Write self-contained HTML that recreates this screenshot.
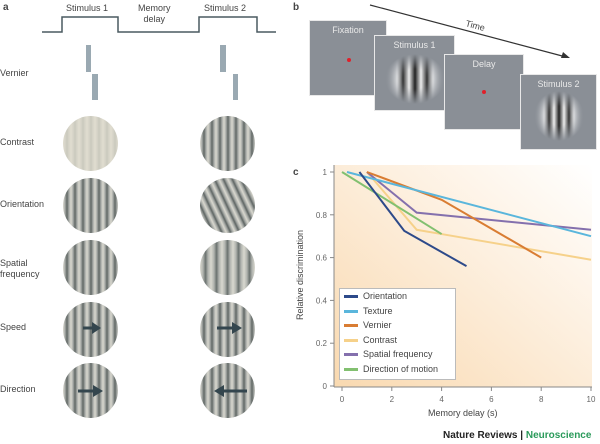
<!DOCTYPE html>
<html><head><meta charset="utf-8">
<style>
body{margin:0;width:600px;height:444px;background:#fff;position:relative;overflow:hidden;font-family:"Liberation Sans",sans-serif;color:#333}
.t{position:absolute;font-size:9px;color:#444;white-space:nowrap}
.c{position:absolute;width:55px;height:55px;border-radius:50%}
.g{background:repeating-linear-gradient(90deg,#d9d8cf 0px,#a9aca8 2px,#5f6664 4px,#a9aca8 6px,#d9d8cf 8px)}
.lc{background:repeating-linear-gradient(90deg,#e0ddd0 0px,#d2d0c4 3px,#c8c8bd 4px,#d2d0c4 5px,#e0ddd0 8px)}
.gd{background:repeating-linear-gradient(65deg,#d9d8cf 0px,#a9aca8 2px,#5f6664 4px,#a9aca8 6px,#d9d8cf 8px)}
.lo{background:repeating-linear-gradient(90deg,#d9d8cf 0px,#b0b3ae 3px,#6a716f 5.5px,#b0b3ae 8px,#d9d8cf 11px)}
.box{position:absolute;width:78px;height:76px;background:#8a8f96;border:1px solid #e8e8e8;color:#e8e8e8;font-size:9px;text-align:center;box-sizing:border-box;padding-top:4px}
</style></head><body>
<svg width="600" height="444" style="position:absolute;left:0;top:0">
<defs>
<linearGradient id="bg" x1="0" y1="1" x2="1" y2="0">
<stop offset="0" stop-color="#f9d9b0"/><stop offset="0.6" stop-color="#fdf0e0"/><stop offset="1" stop-color="#ffffff"/></linearGradient>
<linearGradient id="gab" x1="0" x2="1"><stop offset="0" stop-color="#8a8f96"/><stop offset="0.2" stop-color="#fff"/><stop offset="0.3" stop-color="#333"/><stop offset="0.4" stop-color="#eee"/><stop offset="0.5" stop-color="#222"/><stop offset="0.6" stop-color="#eee"/><stop offset="0.7" stop-color="#333"/><stop offset="0.8" stop-color="#fff"/><stop offset="1" stop-color="#8a8f96"/></linearGradient>
<radialGradient id="fade"><stop offset="0.4" stop-color="#8a8f96" stop-opacity="0"/><stop offset="1" stop-color="#8a8f96" stop-opacity="1"/></radialGradient>
</defs>
<g><polyline points="42,32 62,32 62,17 118,17 118,32 199,32 199,17 257,17 257,32 276,32" fill="none" stroke="#4a5a60" stroke-width="1.5"/></g>
<rect x="86" y="45" width="5" height="27" fill="#9aa9b2"/>
<rect x="92" y="74" width="6" height="26" fill="#9aa9b2"/>
<rect x="220" y="45" width="6" height="27" fill="#9aa9b2"/>
<rect x="233" y="74" width="5" height="26" fill="#9aa9b2"/>
<line x1="370" y1="5" x2="566" y2="57" stroke="#333" stroke-width="1.2"/>
<polygon points="570,58 561,58 563,52" fill="#333"/>
<text x="465" y="26" font-size="9" fill="#444" transform="rotate(15 465 26)">Time</text>
<rect x="334" y="165" width="258" height="222" fill="url(#bg)"/>
<g id="axes"></g>
<g id="series"></g>
</svg>
<div class="t" style="left:3px;top:2px;font-weight:bold;font-size:10px">a</div>
<div class="t" style="left:66px;top:3px">Stimulus 1</div>
<div class="t" style="left:138px;top:3px;text-align:center;line-height:11px">Memory<br>delay</div>
<div class="t" style="left:204px;top:3px">Stimulus 2</div>
<div class="t" style="left:0;top:68px">Vernier</div>
<div class="t" style="left:0;top:137px">Contrast</div>
<div class="t" style="left:0;top:199px">Orientation</div>
<div class="t" style="left:0;top:258px;line-height:11px">Spatial<br>frequency</div>
<div class="t" style="left:0;top:322px">Speed</div>
<div class="t" style="left:0;top:384px">Direction</div>
<div class="c lc" style="left:63px;top:116px"></div>
<div class="c g" style="left:200px;top:116px"></div>
<div class="c g" style="left:63px;top:178px"></div>
<div class="c gd" style="left:200px;top:178px"></div>
<div class="c g" style="left:63px;top:240px"></div>
<div class="c lo" style="left:200px;top:240px"></div>
<div class="c g" style="left:63px;top:302px"></div>
<div class="c g" style="left:200px;top:302px"></div>
<div class="c g" style="left:63px;top:363px"></div>
<div class="c g" style="left:200px;top:363px"></div>
<svg width="300" height="444" style="position:absolute;left:0;top:0">
<g fill="#34464e" stroke="#34464e" stroke-width="3">
<line x1="83" y1="328" x2="94" y2="328"/><polygon points="92,322 101,328 92,334" stroke="none"/>
<line x1="217" y1="328" x2="234" y2="328"/><polygon points="232,322 242,328 232,334" stroke="none"/>
<line x1="78" y1="391" x2="95" y2="391"/><polygon points="93,385 103,391 93,397" stroke="none"/>
<line x1="222" y1="391" x2="247" y2="391"/><polygon points="224,385 214,391 224,397" stroke="none"/>
</g></svg>
<div class="t" style="left:293px;top:2px;font-weight:bold;font-size:10px">b</div>
<div class="box" style="left:309px;top:20px">Fixation<div style="position:absolute;left:37px;top:37px;width:4px;height:4px;border-radius:50%;background:#e0202a"></div></div>
<div class="box" style="left:374px;top:35px;width:81px">Stimulus 1<svg width="60" height="50" style="position:absolute;left:10px;top:18px"><rect width="60" height="50" fill="url(#gab)"/><rect width="60" height="50" fill="url(#fade)"/></svg></div>
<div class="box" style="left:444px;top:54px;width:80px">Delay<div style="position:absolute;left:37px;top:35px;width:4px;height:4px;border-radius:50%;background:#e0202a"></div></div>
<div class="box" style="left:520px;top:74px;width:77px">Stimulus 2<svg width="50" height="50" style="position:absolute;left:13px;top:16px"><rect width="50" height="50" fill="url(#gab)"/><rect width="50" height="50" fill="url(#fade)"/></svg></div>
<div class="t" style="left:293px;top:167px;font-weight:bold;font-size:10px">c</div>
<div class="t" style="left:260px;top:275px;transform:rotate(-90deg);width:80px;text-align:center">Relative discrimination</div>
<div class="t" style="left:428px;top:408px">Memory delay (s)</div>
<div style="position:absolute;left:339px;top:288px;width:117px;height:92px;background:#fff;border:1px solid #bbb;box-sizing:border-box"></div>
<div id="legend-items"></div>
<div class="t" style="left:443px;top:430px;font-size:10px;font-weight:bold;color:#222">Nature Reviews | <span style="color:#2a9a5a">Neuroscience</span></div>
<script>
const seriesNames=["Orientation","Texture","Vernier","Contrast","Spatial frequency","Direction of motion"];
const seriesColors=["#2d4a8a","#5ab6dc","#d97d33","#f6d18a","#8470ad","#82c070"];
const orientationX=[0.7,2.5,5];const orientationY=[1.0,0.725,0.56];
const textureX=[0.2,10];const textureY=[1.0,0.70];
const vernierX=[1,4,8];const vernierY=[1.0,0.87,0.60];
const contrastX=[1,3,4,10];const contrastY=[1.0,0.73,0.71,0.59];
const spatialX=[1,3,10];const spatialY=[1.0,0.81,0.73];
const directionX=[0,4];const directionY=[1.0,0.71];
const xTicks=[0,2,4,6,8,10];
const yTicks=[0,0.2,0.4,0.6,0.8,1];
const sx=v=>342+v*24.9, sy=v=>386-v*214;
const NS="http://www.w3.org/2000/svg";
const ax=document.getElementById('axes');
function mk(tag,attrs,parent){const e=document.createElementNS(NS,tag);for(const k in attrs)e.setAttribute(k,attrs[k]);parent.appendChild(e);return e;}
let l=mk('line',{x1:334,y1:165,x2:334,y2:387,stroke:'#888','stroke-width':1},ax);


l=mk('line',{x1:334,y1:387,x2:592,y2:387,stroke:'#888','stroke-width':1},ax);


xTicks.forEach(v=>{mk('line',{x1:sx(v),y1:387,x2:sx(v),y2:391,stroke:'#888'},ax);
 const t=mk('text',{x:sx(v),y:402,'font-size':8,fill:'#666','text-anchor':'middle'},ax);t.textContent=v;
 
 });
yTicks.forEach(v=>{mk('line',{x1:330,y1:sy(v),x2:334,y2:sy(v),stroke:'#888'},ax);
 const t=mk('text',{x:327,y:sy(v)+3,'font-size':8,fill:'#666','text-anchor':'end'},ax);t.textContent=v;
 
 });
const sg=document.getElementById('series');
const all=[[orientationX,orientationY],[textureX,textureY],[vernierX,vernierY],[contrastX,contrastY],[spatialX,spatialY],[directionX,directionY]];
const order=[3,5,4,2,1,0];
order.forEach(i=>{const [xs,ys]=all[i];
 const p=mk('polyline',{points:xs.map((x,j)=>sx(x)+','+sy(ys[j])).join(' '),fill:'none',stroke:seriesColors[i],'stroke-width':2},sg);
 
 });
const li=document.getElementById('legend-items');
seriesNames.forEach((n,i)=>{const d=document.createElement('div');
 d.className='t';d.style.left='344px';d.style.top=(291+i*14.5)+'px';
 d.innerHTML='<span style="display:inline-block;width:14px;height:3px;background:'+seriesColors[i]+';vertical-align:middle;margin-right:5px"></span>'+n;
 
 
 li.appendChild(d);});
</script>
</body></html>
